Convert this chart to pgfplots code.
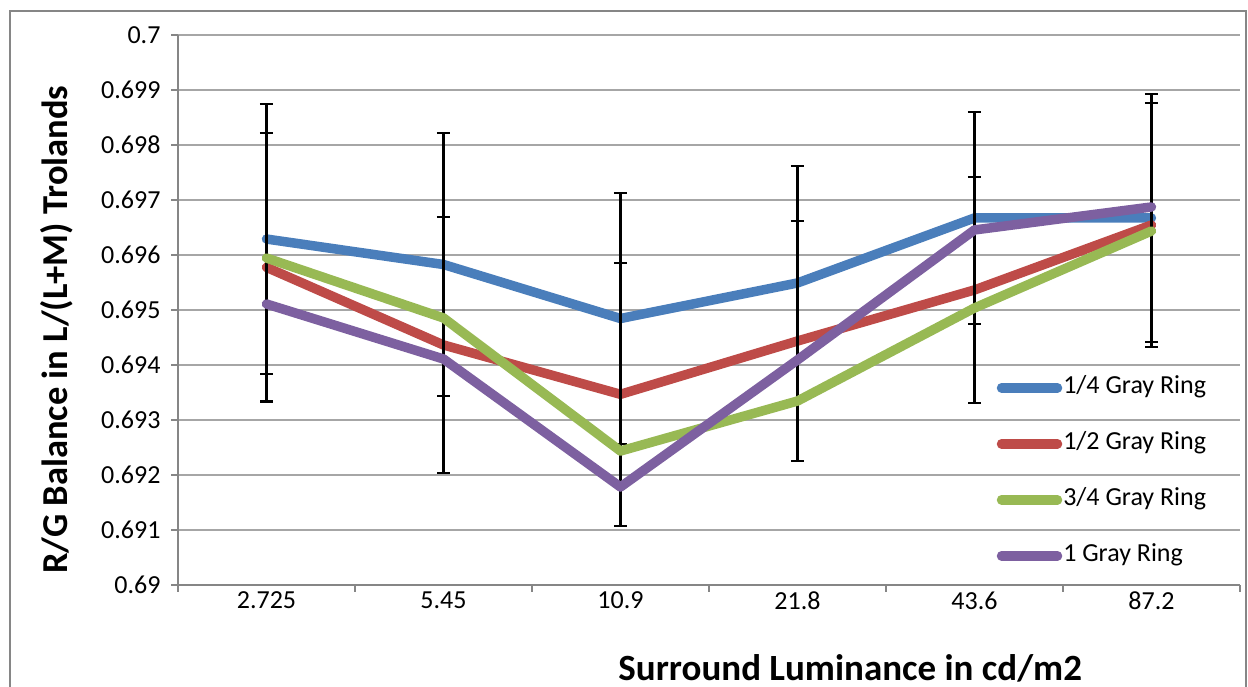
\documentclass[border=0pt]{standalone}
\usepackage{pgfplots}
\pgfplotsset{compat=1.18}
\usepackage{fontspec}
\setmainfont{Carlito}

\definecolor{ringQuarter}{HTML}{4A7EBB}
\definecolor{ringHalf}{HTML}{BE4B48}
\definecolor{ringThreeQ}{HTML}{98B954}
\definecolor{ringFull}{HTML}{7D60A0}
\definecolor{axisgray}{HTML}{868686}
\definecolor{gridgray}{HTML}{A6A6A6}

\begin{document}
\begin{tikzpicture}[x=1pt,y=1pt]
\path[use as bounding box] (0,0) rectangle (1248,687);
\draw[axisgray, line width=1.5pt] (10,-20) rectangle (1246,676);
\begin{axis}[
  at={(178pt,102pt)}, anchor=south west,
  scale only axis, width=1062pt, height=550pt,
  xmin=-0.5, xmax=5.5, ymin=0.69, ymax=0.7,
  axis x line=bottom, axis y line=left,
  axis line style={draw=axisgray, line width=1.5pt, -},
  ytick={0.69,0.691,0.692,0.693,0.694,0.695,0.696,0.697,0.698,0.699,0.7},
  yticklabels={0.69,0.691,0.692,0.693,0.694,0.695,0.696,0.697,0.698,0.699,0.7},
  scaled y ticks=false,
  ymajorgrids,
  major grid style={draw=gridgray, line width=1.5pt},
  tick align=outside, major tick length=7pt,
  tick style={draw=axisgray, line width=1.5pt},
  xtick={-0.5,0.5,1.5,2.5,3.5,4.5,5.5},
  xticklabels={},
  extra x ticks={0,1,2,3,4,5},
  extra x tick labels={2.725,5.45,10.9,21.8,43.6,87.2},
  extra x tick style={major tick length=0pt, grid=none},
  ticklabel style={font=\fontsize{26}{30}\selectfont, text=black},
  yticklabel style={xshift=-7pt},
  xticklabel style={yshift=-3pt},
  xlabel={Surround Luminance in cd/m2},
  ylabel={R/G Balance in L/(L+M) Trolands},
  xlabel style={at={(axis description cs:0.633,-0.151)}, anchor=center,
    font=\fontsize{37}{44}\selectfont\bfseries},
  ylabel style={at={(axis description cs:-0.114,0.464)}, anchor=center,
    font=\fontsize{36.5}{44}\selectfont\bfseries},
  legend style={at={(0.768,0.386)}, anchor=north west, draw=none, fill=none,
    font=\fontsize{26}{31}\selectfont, row sep=30pt,
    nodes={inner sep=1pt, text height=18pt, text depth=6pt}},
  legend cell align=left,
  legend image code/.code={\draw[#1] (0pt,0pt) -- (56pt,0pt);},
  every axis plot/.append style={line width=9.5pt, line cap=round, line join=round},
  error bars/error bar style={black, line width=2.6pt, line cap=butt},
  error bars/error mark=-,
  error bars/error mark options={rotate=90, black, line width=2.6pt, mark size=6.5pt},
]
% 1/4 gray ring, with its error bars
\addplot[ringQuarter, error bars/.cd, y dir=both, y explicit]
  coordinates {
  (0,0.69629) +- (0,0.002455)
  (1,0.695827) +- (0,0.002391)
  (2,0.694845) +- (0,0.002282)
  (3,0.695491) +- (0,0.002127)
  (4,0.696673) +- (0,0.001927)
  (5,0.696673) +- (0,0.002255)
  };
\addlegendentry{1/4 Gray Ring}
% 1/2 gray ring, with its error bars
\addplot[ringHalf, error bars/.cd, y dir=both, y explicit]
  coordinates {
  (0,0.695776) +- (0,0.002445)
  (1,0.694364) +- (0,0.002327)
  (2,0.693467) +- (0,0.002391)
  (3,0.694436) +- (0,0.002182)
  (4,0.695364) +- (0,0.002055)
  (5,0.696545) +- (0,0.002218)
  };
\addlegendentry{1/2 Gray Ring}
% 3/4 gray ring
\addplot[ringThreeQ] coordinates {
  (0,0.695945) (1,0.694855) (2,0.692436) (3,0.693345) (4,0.695036) (5,0.696436)
  };
\addlegendentry{3/4 Gray Ring}
% full gray ring
\addplot[ringFull] coordinates {
  (0,0.695109) (1,0.694109) (2,0.691782) (3,0.694091) (4,0.696455) (5,0.696873)
  };
\addlegendentry{1 Gray Ring}
\end{axis}
\end{tikzpicture}
\end{document}
